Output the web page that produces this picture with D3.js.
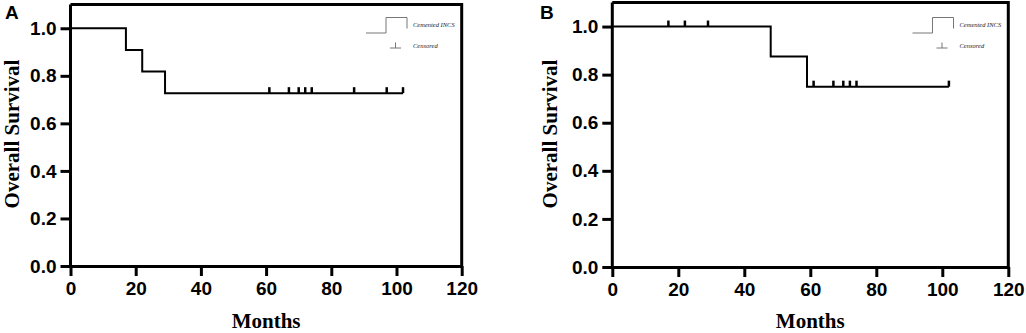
<!DOCTYPE html>
<html>
<head>
<meta charset="utf-8">
<script src="https://cdn.jsdelivr.net/npm/d3@7"></script>
<style>
  body { margin: 0; background: #fff; }
  svg { display: block; }
  .tick text { font-family: "Liberation Sans", Arial, sans-serif; font-weight: bold; font-size: 19px; fill: #000; }
  .title { font-family: "Liberation Serif", "Times New Roman", serif; font-weight: bold; font-size: 21px; fill: #000; }
  .panel-label { font-family: "Liberation Sans", Arial, sans-serif; font-weight: bold; font-size: 19px; fill: #000; }
  .legend-text { font-family: "Liberation Serif", "Times New Roman", serif; font-style: italic; font-size: 6.5px; fill: #222; }
</style>
</head>
<body>
<script>
// x / y ticks shared by both panels
const xTicks = [0, 20, 40, 60, 80, 100, 120];
const yTicks = [0.0, 0.2, 0.4, 0.6, 0.8, 1.0];
const legendLabels = ["Cemented INCS", "Censored"];

// panel A: step times and survival after each step, last follow-up, censored times
const stepTimesA = [0, 17, 22, 29];
const survivalA = [1.0, 0.909, 0.818, 0.727];
const lastTimeA = 102;
const censoredA = [61, 67, 70, 72, 74, 87, 97, 102];

// panel B
const stepTimesB = [0, 48, 59];
const survivalB = [1.0, 0.875, 0.75];
const lastTimeB = 102;
const censoredB = [17, 22, 29, 61, 67, 70, 72, 74, 102];

const svg = d3.select("body").append("svg")
  .attr("width", 1026)
  .attr("height", 333);

function survivalAt(times, surv, t) {
  let s = surv[0];
  for (let i = 0; i < times.length; ++i) {
    if (t >= times[i]) s = surv[i];
  }
  return s;
}

function drawPanel(opt) {
  const x = d3.scaleLinear().domain([0, 120]).range([opt.left, opt.right]);
  const y = d3.scaleLinear().domain([0, 1.1]).range([opt.bottom, opt.top]);
  const g = svg.append("g");

  // top and right frame lines
  g.append("path")
    .attr("d", `M${opt.left},${opt.top}H${opt.right}V${opt.bottom}`)
    .attr("fill", "none")
    .attr("stroke", "#000")
    .attr("stroke-width", 3);

  const yAxis = g.append("g")
    .attr("transform", `translate(${opt.left},0)`)
    .call(d3.axisLeft(y).tickValues(yTicks).tickFormat(d3.format(".1f")).tickSize(10).tickSizeOuter(0).tickPadding(4));
  yAxis.select(".domain").attr("stroke-width", 3).attr("d", `M0,${opt.top}V${opt.bottom}`);
  yAxis.selectAll(".tick line").attr("stroke-width", 3);

  const xAxis = g.append("g")
    .attr("transform", `translate(0,${opt.bottom})`)
    .call(d3.axisBottom(x).tickValues(xTicks).tickSize(10).tickSizeOuter(0).tickPadding(6));
  xAxis.select(".domain").attr("stroke-width", 3);
  xAxis.selectAll(".tick line").attr("stroke-width", 3);

  // survival curve
  const pts = opt.times.map((t, i) => [t, opt.surv[i]]);
  pts.push([opt.last, opt.surv[opt.surv.length - 1]]);
  const line = d3.line().x(d => x(d[0])).y(d => y(d[1])).curve(d3.curveStepAfter);
  g.append("path")
    .attr("d", line(pts))
    .attr("fill", "none")
    .attr("stroke", "#000")
    .attr("stroke-width", 2);

  // censor marks
  g.selectAll(".censor")
    .data(opt.censored)
    .join("line")
    .attr("class", "censor")
    .attr("x1", d => x(d))
    .attr("x2", d => x(d))
    .attr("y1", d => y(survivalAt(opt.times, opt.surv, d)))
    .attr("y2", d => y(survivalAt(opt.times, opt.surv, d)) - 6)
    .attr("stroke", "#000")
    .attr("stroke-width", 2.5);

  // titles
  g.append("text")
    .attr("class", "title")
    .attr("text-anchor", "middle")
    .attr("transform", `translate(${opt.yTitleX},${opt.yTitleY}) rotate(-90)`)
    .text("Overall Survival");
  g.append("text")
    .attr("class", "title")
    .attr("text-anchor", "middle")
    .attr("x", (opt.left + opt.right) / 2)
    .attr("y", 328)
    .text("Months");
  g.append("text")
    .attr("class", "panel-label")
    .attr("x", opt.labelX)
    .attr("y", 19)
    .text(opt.label);

  // legend
  const lx = opt.legendX;
  const lg = g.append("g").attr("stroke", "#777").attr("fill", "none").attr("stroke-width", 1);
  lg.append("path").attr("d", `M${lx},33 H${lx + 20} V17.5 H${lx + 41} V28.5`);
  lg.append("path").attr("d", `M${lx + 24},48 H${lx + 35} M${lx + 29.5},48 V42.5`);
  g.selectAll(".legend-text")
    .data(legendLabels)
    .join("text")
    .attr("class", "legend-text")
    .attr("x", lx + 47)
    .attr("y", (d, i) => i === 0 ? 26.5 : 48)
    .text(d => d);
}

drawPanel({
  label: "A", labelX: 5,
  left: 70.5, right: 461.7, top: 4.5, bottom: 266,
  times: stepTimesA, surv: survivalA, last: lastTimeA, censored: censoredA,
  yTitleX: 18.5, yTitleY: 134, legendX: 366
});

drawPanel({
  label: "B", labelX: 540,
  left: 612.3, right: 1008.3, top: 2.5, bottom: 267,
  times: stepTimesB, surv: survivalB, last: lastTimeB, censored: censoredB,
  yTitleX: 557, yTitleY: 134, legendX: 912.5
});
</script>
</body>
</html>
